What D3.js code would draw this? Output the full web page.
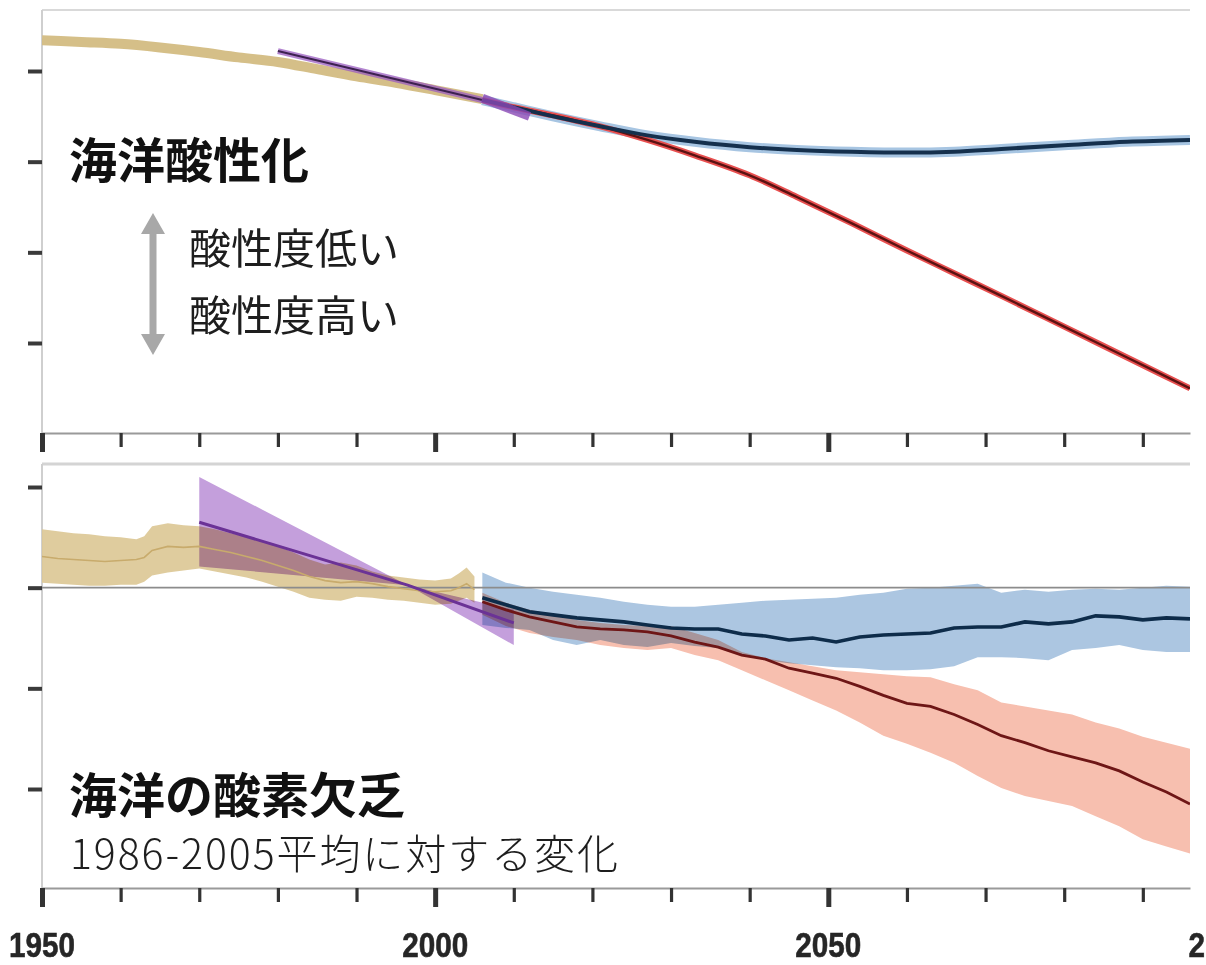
<!DOCTYPE html>
<html>
<head>
<meta charset="utf-8">
<script src="https://cdn.jsdelivr.net/npm/d3@7"></script>
<style>
  html, body { margin: 0; padding: 0; background: #fff; }
  svg { display: block; }
  .cjk { font-family: "Noto Sans CJK JP", "Noto Sans CJK SC", sans-serif; }
  .year { font-family: "Liberation Sans", Arial, sans-serif; font-weight: bold; }
</style>
</head>
<body>
<svg id="chart" width="1206" height="965"></svg>
<script>
// ---------- axis ticks ----------
const xTickYears = [1950, 1960, 1970, 1980, 1990, 2000, 2010, 2020, 2030, 2040, 2050, 2060, 2070, 2080, 2090];
const xLabelYears = [1950, 2000, 2050, 2100];
const phTicks = [8.1, 8.0, 7.9, 7.8];
const o2Ticks = [2, 0, -2, -4];

// ---------- surface pH (ocean acidification) ----------
const phHistYears = [1950, 1955, 1960, 1965, 1970, 1975, 1980, 1985, 1990, 1995, 2000, 2006];
const phHist      = [8.134, 8.132, 8.130, 8.126, 8.121, 8.115, 8.110, 8.102, 8.094, 8.087, 8.079, 8.069];
const phObsAYears = [1980, 2006];
const phObsA      = [8.122, 8.068];
const phObsBYears = [2006, 2012];
const phObsB      = [8.070, 8.050];
const phProjYears = [2006, 2010, 2015, 2021, 2027, 2033, 2040, 2046, 2053, 2060, 2066, 2072, 2080, 2088, 2096];
const phRcp26     = [8.068, 8.060, 8.050, 8.039, 8.029, 8.022, 8.016, 8.013, 8.011, 8.010, 8.011, 8.014, 8.018, 8.022, 8.024];
const phRcp85     = [8.068, 8.060, 8.051, 8.039, 8.024, 8.007, 7.985, 7.961, 7.932, 7.902, 7.877, 7.852, 7.818, 7.784, 7.750];

// ---------- oxygen change, % vs 1986-2005 (ocean deoxygenation) ----------
const o2HistYears = [1950, 1952, 1954, 1956, 1958, 1960, 1962, 1963, 1964, 1966, 1968, 1970, 1972, 1974, 1976, 1978,
                     1980, 1982, 1984, 1986, 1988, 1990, 1992, 1994, 1996, 1998, 2000, 2002, 2003, 2004, 2005];
const o2HistMean  = [0.62, 0.58, 0.56, 0.54, 0.52, 0.54, 0.56, 0.60, 0.74, 0.82, 0.80, 0.82, 0.76, 0.70, 0.62, 0.54,
                     0.44, 0.34, 0.22, 0.14, 0.10, 0.12, 0.08, 0.02, -0.02, -0.06, -0.08, -0.06, 0.00, 0.08, -0.04];
const o2HistHi    = [1.16, 1.12, 1.08, 1.06, 1.02, 1.00, 0.96, 1.02, 1.22, 1.28, 1.24, 1.22, 1.16, 1.08, 1.00, 0.92,
                     0.82, 0.70, 0.56, 0.46, 0.50, 0.44, 0.32, 0.24, 0.20, 0.16, 0.14, 0.18, 0.28, 0.40, 0.22];
const o2HistLo    = [0.10, 0.08, 0.06, 0.04, 0.04, 0.06, 0.06, 0.12, 0.24, 0.30, 0.34, 0.38, 0.32, 0.26, 0.20, 0.12,
                     0.02, -0.08, -0.20, -0.24, -0.26, -0.18, -0.20, -0.24, -0.26, -0.30, -0.34, -0.32, -0.26, -0.20, -0.30];

const o2ObsYears = [1970, 1996.5, 2010];
const o2ObsMean  = [1.30, 0.05, -0.70];
const o2ObsHi    = [2.20, 0.05, -0.44];
const o2ObsLo    = [0.42, 0.05, -1.14];

const o2ProjYears = [2006, 2009, 2012, 2015, 2018, 2021, 2024, 2027, 2030, 2033, 2036, 2039, 2042, 2045, 2048, 2051,
                     2054, 2057, 2060, 2063, 2066, 2069, 2072, 2075, 2078, 2081, 2084, 2087, 2090, 2093, 2096];
const o2Rcp26Mean = [-0.20, -0.34, -0.48, -0.54, -0.60, -0.64, -0.68, -0.74, -0.80, -0.82, -0.82, -0.92, -0.96, -1.04, -1.00, -1.08,
                     -0.98, -0.94, -0.92, -0.90, -0.80, -0.78, -0.78, -0.68, -0.72, -0.68, -0.56, -0.58, -0.64, -0.60, -0.62];
const o2Rcp26Hi   = [0.30, 0.10, 0.00, -0.08, -0.14, -0.20, -0.28, -0.34, -0.38, -0.38, -0.34, -0.30, -0.26, -0.24, -0.22, -0.20,
                     -0.14, -0.10, -0.02, 0.00, 0.04, 0.08, -0.10, -0.04, -0.08, -0.04, -0.02, -0.04, 0.00, 0.04, 0.02];
const o2Rcp26Lo   = [-0.74, -0.80, -0.84, -1.04, -1.14, -1.04, -1.14, -1.18, -1.10, -1.16, -1.20, -1.34, -1.44, -1.50, -1.54, -1.58,
                     -1.60, -1.64, -1.64, -1.62, -1.56, -1.38, -1.38, -1.40, -1.44, -1.24, -1.20, -1.14, -1.24, -1.28, -1.28];
const o2Rcp85Mean = [-0.28, -0.44, -0.58, -0.68, -0.78, -0.82, -0.84, -0.88, -0.96, -1.08, -1.18, -1.34, -1.42, -1.60, -1.70, -1.80,
                     -1.96, -2.14, -2.30, -2.36, -2.52, -2.72, -2.94, -3.08, -3.24, -3.36, -3.48, -3.64, -3.86, -4.06, -4.30];
const o2Rcp85Hi   = [-0.10, -0.30, -0.44, -0.54, -0.64, -0.70, -0.74, -0.76, -0.76, -0.90, -1.04, -1.28, -1.40, -1.48, -1.56, -1.64,
                     -1.68, -1.72, -1.76, -1.78, -1.92, -2.04, -2.28, -2.36, -2.44, -2.52, -2.68, -2.80, -2.96, -3.08, -3.20];
const o2Rcp85Lo   = [-0.54, -0.76, -0.90, -0.98, -1.04, -1.14, -1.20, -1.24, -1.20, -1.34, -1.44, -1.64, -1.84, -2.04, -2.24, -2.44,
                     -2.68, -2.94, -3.10, -3.28, -3.48, -3.74, -3.98, -4.14, -4.24, -4.34, -4.54, -4.74, -5.00, -5.14, -5.28];

// ---------- layout ----------
const svg = d3.select("#chart");
const left = 42, right = 1190;
const top1 = 10, bottom1 = 433;
const top2 = 464, bottom2 = 888;

const x = d3.scaleLinear().domain([1950, 2096]).range([left, right]);
const yPh = d3.scaleLinear().domain([7.8, 8.1]).range([343, 71]);
const yO2 = d3.scaleLinear().domain([-4, 2]).range([789, 487]);

const zip = (xs, ys) => xs.map((d, i) => [d, ys[i]]);
const zip3 = (xs, lo, hi) => xs.map((d, i) => ({ x: d, lo: lo[i], hi: hi[i] }));

const defs = svg.append("defs");
defs.append("clipPath").attr("id", "clipTop")
  .append("rect").attr("x", left).attr("y", top1).attr("width", right - left).attr("height", bottom1 - top1);
defs.append("clipPath").attr("id", "clipBot")
  .append("rect").attr("x", left).attr("y", top2).attr("width", right - left).attr("height", bottom2 - top2);

// ---------- frames ----------
svg.append("line").attr("x1", left).attr("x2", right).attr("y1", top1).attr("y2", top1)
  .attr("stroke", "#d9d9d9").attr("stroke-width", 2);
svg.append("line").attr("x1", left).attr("x2", left).attr("y1", top1).attr("y2", bottom1)
  .attr("stroke", "#cfcfcf").attr("stroke-width", 2);
svg.append("line").attr("x1", left).attr("x2", right).attr("y1", top2).attr("y2", top2)
  .attr("stroke", "#d4d4d4").attr("stroke-width", 3);
svg.append("line").attr("x1", left).attr("x2", left).attr("y1", top2).attr("y2", bottom2)
  .attr("stroke", "#cfcfcf").attr("stroke-width", 2);

// ---------- top panel: pH ----------
const gTop = svg.append("g").attr("clip-path", "url(#clipTop)");
const linePh = d3.line().x(d => x(d[0])).y(d => yPh(d[1])).curve(d3.curveMonotoneX);

gTop.append("path").datum(zip(phHistYears, phHist)).attr("d", linePh)
  .attr("fill", "none").attr("stroke", "#d3bc82").attr("stroke-width", 10).attr("opacity", 0.95);

gTop.append("path").datum(zip(phObsAYears, phObsA)).attr("d", linePh)
  .attr("fill", "none").attr("stroke", "#9a5cc0").attr("stroke-width", 6).attr("opacity", 0.75);
gTop.append("path").datum(zip(phObsAYears, phObsA)).attr("d", linePh)
  .attr("fill", "none").attr("stroke", "#3d2150").attr("stroke-width", 2);

gTop.append("path").datum(zip(phProjYears, phRcp26)).attr("d", linePh)
  .attr("fill", "none").attr("stroke", "#a7c5e2").attr("stroke-width", 10);
gTop.append("path").datum(zip(phProjYears, phRcp85)).attr("d", linePh)
  .attr("fill", "none").attr("stroke", "#e85050").attr("stroke-width", 6);
gTop.append("path").datum(zip(phProjYears, phRcp85)).attr("d", linePh)
  .attr("fill", "none").attr("stroke", "#5a1212").attr("stroke-width", 2.4);
gTop.append("path").datum(zip(phProjYears, phRcp26)).attr("d", linePh)
  .attr("fill", "none").attr("stroke", "#15304d").attr("stroke-width", 4);

gTop.append("path").datum(zip(phObsBYears, phObsB)).attr("d", linePh)
  .attr("fill", "none").attr("stroke", "#8a48b4").attr("stroke-width", 9).attr("opacity", 0.8);

// ---------- bottom panel: oxygen ----------
const gBot = svg.append("g").attr("clip-path", "url(#clipBot)");
const areaO2 = d3.area().x(d => x(d.x)).y0(d => yO2(d.lo)).y1(d => yO2(d.hi));
const lineO2 = d3.line().x(d => x(d[0])).y(d => yO2(d[1]));

gBot.append("path").datum(zip3(o2HistYears, o2HistLo, o2HistHi)).attr("d", areaO2)
  .attr("fill", "#dcc794").attr("opacity", 0.9).style("mix-blend-mode", "multiply");
gBot.append("path").datum(zip3(o2ProjYears, o2Rcp85Lo, o2Rcp85Hi)).attr("d", areaO2)
  .attr("fill", "#f6b8a6").attr("opacity", 0.9).style("mix-blend-mode", "multiply");
gBot.append("path").datum(zip3(o2ProjYears, o2Rcp26Lo, o2Rcp26Hi)).attr("d", areaO2)
  .attr("fill", "#9dbcdc").attr("opacity", 0.85).style("mix-blend-mode", "multiply");
gBot.append("path").datum(zip3(o2ObsYears, o2ObsLo, o2ObsHi)).attr("d", areaO2)
  .attr("fill", "#b07ed0").attr("opacity", 0.75).style("mix-blend-mode", "multiply");

// zero reference line sits above the shaded ranges
gBot.append("line").attr("x1", left).attr("x2", right).attr("y1", yO2(0)).attr("y2", yO2(0))
  .attr("stroke", "#8c8c8c").attr("stroke-width", 1.6);

gBot.append("path").datum(zip(o2HistYears, o2HistMean)).attr("d", lineO2)
  .attr("fill", "none").attr("stroke", "#c8ab6c").attr("stroke-width", 1.6);
gBot.append("path").datum(zip(o2ObsYears, o2ObsMean)).attr("d", lineO2)
  .attr("fill", "none").attr("stroke", "#6b3296").attr("stroke-width", 3);
gBot.append("path").datum(zip(o2ProjYears, o2Rcp85Mean)).attr("d", lineO2)
  .attr("fill", "none").attr("stroke", "#6e1616").attr("stroke-width", 2.8);
gBot.append("path").datum(zip(o2ProjYears, o2Rcp26Mean)).attr("d", lineO2)
  .attr("fill", "none").attr("stroke", "#0e2c4a").attr("stroke-width", 3.6);

// ---------- axes ----------
function xAxisAt(yPos) {
  const g = svg.append("g").attr("transform", `translate(0,${yPos})`)
    .call(d3.axisBottom(x).tickValues(xTickYears).tickSize(14).tickSizeOuter(0).tickFormat(""));
  g.select(".domain").attr("stroke", "#9a9a9a").attr("stroke-width", 2);
  g.selectAll(".tick line")
    .attr("stroke", "#333")
    .attr("y2", d => d % 50 === 0 ? 19 : 14)
    .attr("stroke-width", d => d % 50 === 0 ? 5 : 3.2);
}
xAxisAt(bottom1);
xAxisAt(bottom2);

function yAxis(scale, ticks) {
  const g = svg.append("g").attr("transform", `translate(${left},0)`)
    .call(d3.axisLeft(scale).tickValues(ticks).tickSize(14).tickSizeOuter(0).tickFormat(""));
  g.select(".domain").remove();
  g.selectAll(".tick line").attr("stroke", "#3a3a3a").attr("stroke-width", 4);
}
yAxis(yPh, phTicks);
yAxis(yO2, o2Ticks);

svg.append("g").selectAll("text").data(xLabelYears).join("text")
  .attr("class", "year")
  .attr("x", d => x(d)).attr("y", 957)
  .attr("text-anchor", "middle")
  .attr("font-size", 35)
  .attr("textLength", 66)
  .attr("lengthAdjust", "spacingAndGlyphs")
  .attr("fill", "#262626")
  .attr("stroke", "#262626").attr("stroke-width", 0.6)
  .text(d => d);

// ---------- annotations ----------
svg.append("text").attr("class", "cjk").attr("x", 69).attr("y", 178)
  .attr("font-size", 48).attr("font-weight", 700).attr("fill", "#111").text("海洋酸性化");

svg.append("path")
  .attr("d", "M153,213 L165,234 L156.5,234 L156.5,334 L165,334 L153,355 L141,334 L149.5,334 L149.5,234 L141,234 Z")
  .attr("fill", "#a8a8a8");

svg.append("text").attr("class", "cjk").attr("x", 189).attr("y", 264)
  .attr("font-size", 42).attr("font-weight", 400).attr("fill", "#1e1e1e").text("酸性度低い");
svg.append("text").attr("class", "cjk").attr("x", 189).attr("y", 331)
  .attr("font-size", 42).attr("font-weight", 400).attr("fill", "#1e1e1e").text("酸性度高い");

svg.append("text").attr("class", "cjk").attr("x", 69).attr("y", 813)
  .attr("font-size", 48).attr("font-weight", 700).attr("fill", "#111").text("海洋の酸素欠乏");
svg.append("text").attr("class", "cjk").attr("x", 70).attr("y", 869)
  .attr("font-size", 41).attr("font-weight", 300).attr("fill", "#1e1e1e")
  .attr("textLength", 548).attr("lengthAdjust", "spacing")
  .text("1986-2005平均に対する変化");
</script>
</body>
</html>
